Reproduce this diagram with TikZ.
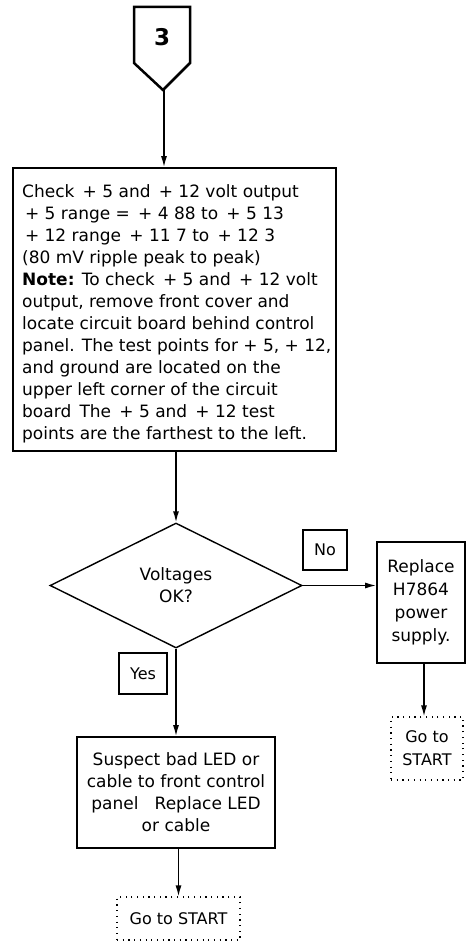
\documentclass[tikz,border=0pt]{standalone}
\usepackage{fontspec}
\setmainfont{DejaVu Sans}
\usetikzlibrary{shapes.geometric,arrows.meta}
\begin{document}
\begin{tikzpicture}[x=1pt,y=-1pt,
  txt/.style={font=\fontsize{17}{22}\selectfont},
  box/.style={draw, line width=1.7pt, inner sep=0pt},
  lbl/.style={draw, line width=1.4pt, inner sep=0pt, font=\fontsize{16}{20}\selectfont},
  goto/.style={draw, line width=1.2pt, dash pattern=on 1.2pt off 4.5pt, inner sep=0pt, align=center, font=\fontsize{16}{23}\selectfont},
  flow/.style={line width=1.4pt, -{Latex[length=11pt,width=6pt]}},
]
\useasboundingbox (0,0) rectangle (466,944);
% connector symbol
\draw[line width=2.5pt, line join=miter] (134,7) -- (190,7) -- (190,63) -- (163,90) -- (134,63) -- cycle;
\node[font=\bfseries\fontsize{23}{26}\selectfont] (n3) at (162,37) {3};
\coordinate (p3) at (164,90);
% main box
\node[box, minimum width=323pt, minimum height=283pt] (check) at (174.5,309.5) {};
\node[txt, align=left, anchor=north west, inner sep=0pt] (checktxt) at (22,184) {%
Check \,+ 5 and \,+ 12 volt output\\
\,+ 5 range = \,+ 4 88 to \,+ 5 13\\
\,+ 12 range \,+ 11 7 to \,+ 12 3\\
(80 mV ripple peak to peak)\\
\textbf{Note:} To check \,+ 5 and \,+ 12 volt\\
output, remove front cover and\\
locate circuit board behind control\\
panel. The test points for + 5, + 12,\\
and ground are located on the\\
upper left corner of the circuit\\
board \,The \,+ 5 and \,+ 12 test\\
points are the farthest to the left.};
% decision
\node[draw, diamond, line width=1.4pt, minimum width=252pt, minimum height=125pt, inner sep=0pt, align=center, txt] (volt) at (176,585.5) {Voltages\\OK?};
\node[lbl, minimum width=44pt, minimum height=40pt] (no) at (325,550) {No};
\node[lbl, minimum width=48pt, minimum height=41pt] (yes) at (143,673.5) {Yes};
% actions
\node[box, minimum width=88pt, minimum height=121pt, align=center, font=\fontsize{17}{23}\selectfont] (replace) at (421,602.5) {Replace\\H7864\\power\\supply.};
\node[box, minimum width=198pt, minimum height=111pt, align=center, txt] (suspect) at (176,792.5) {Suspect bad LED or\\cable to front control\\panel ~~Replace LED\\or cable};
\node[goto, minimum width=72pt, minimum height=63pt] (goto2) at (427,748.5) {Go to\\START};
\node[goto, minimum width=123pt, minimum height=43pt] (goto1) at (178.5,918.5) {Go to START};
% connectors
\draw[flow] (p3) -- (p3 |- check.north);
\draw[flow] (volt.north |- check.south) -- (volt.north);
\draw[flow] (volt.east) -- (volt.east -| replace.west);
\draw[flow] (volt.south) -- (volt.south |- suspect.north);
\draw[flow] (goto1.north |- suspect.south) -- (goto1.north);
\draw[flow] ([xshift=3pt]replace.south) -- ([xshift=3pt]replace.south |- goto2.north);
\end{tikzpicture}
\end{document}
